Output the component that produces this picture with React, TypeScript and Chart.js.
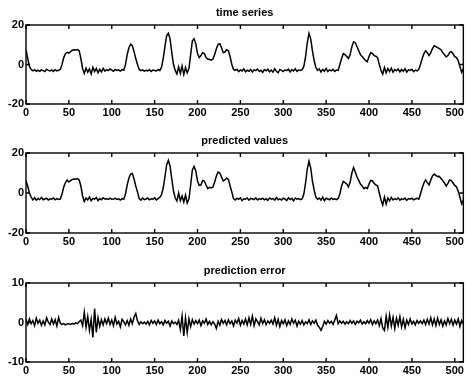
import React, { useEffect, useRef } from "react";
import { Chart, registerables } from "chart.js";

Chart.register(...registerables);

// ---------- data ----------
const sampleStep = 2; // one value every 2 samples, x = 0..510
const xMin = 0;
const xMax = 510;
const xTicks = [0, 50, 100, 150, 200, 250, 300, 350, 400, 450, 500];
const seriesTicks = [-20, 0, 20];
const errorTicks = [-10, 0, 10];

const panelTitles = ["time series", "predicted values", "prediction error"];

const timeSeries = [
  7.5, 3, -1, -2.5, -3.2, -2.6, -3.4, -2.9, -3.5, -2.7,
  -3.1, -3.6, -2.4, -3.0, -3.3, -2.8, -3.5, -2.6, -3.2, -2.9,
  -2.5, 0, 3.5, 5.5, 6.2, 5.8, 6.5, 7.2, 7.5, 7.4,
  7.6, 7, 3, -2, -4.5, -1.8, -3.9, -2.2, -4.8, -1.5,
  -3.6, -2.0, -4.2, -2.4, -3.8, -1.9, -3.3, -2.6, -3.1, -2.3,
  -2.8, -3.4, -2.5, -3.0, -2.7, -3.3, -2.6, -2.9, 0, 5,
  8.5, 10.3, 9.5, 6.5, 3, 0, -2.5, -3.1, -2.7, -3.4,
  -2.9, -3.2, -2.6, -3.5, -2.8, -3.0, -3.3, -2.5, -3.1, -1.5,
  3, 9, 14.5, 15.8, 13, 6, 0, -3, -4.8, -1.2,
  -4.5, -0.8, -5, -1.5, -4.2, -2, 5, 12, 13, 10.5,
  5.5, 3.5, 4.5, 6, 5.5, 3.5, 2.8, 2.5, 2.2, 2.8,
  5, 8, 10.2, 10.5, 8.5, 6, 6.3, 7.5, 7, 4,
  0, -2.5, -3, -2.4, -3.6, -2.8, -3.3, -2.2, -3.7, -2.9,
  -3.4, -2.5, -3.8, -2.7, -3.1, -2.3, -3.5, -2.9, -4.0, -2.6,
  -3.2, -2.4, -3.7, -2.8, -3.9, -2.1, -3.4, -4.2, -2.5, -3.0,
  -3.6, -2.7, -3.1, -2.4, -3.8, -2.6, -3.3, -2.2, -3.5, -2.8,
  -3.0, -2.6, -1, 4, 11, 15.8, 13, 7, 2, -1.5,
  -3, -2.2, -3.8, -2.5, -3.4, -2.0, -3.6, -2.7, -3.2, -2.4,
  -3.5, -2.8, -3.0, 0, 3, 5.5, 5, 4, 3, 5,
  9, 11.5, 11, 9, 7, 5, 4, 3, 2, 1.5,
  4, 6, 5.5, 4.5, 4.2, 3.5, 0, -3, -4.8, -1.5,
  -4.2, -2.0, -3.6, -1.8, -3.9, -2.6, -3.2, -2.3, -3.7, -2.5,
  -3.4, -2.1, -3.8, -2.7, -3.0, -2.4, -3.6, -2.8, -3.2, -2.6,
  0, 3, 5.5, 7, 6, 4.5, 6, 8, 9.5, 9,
  8.5, 8, 7.5, 6, 5, 3.8, 4.5, 6, 6.5, 5.5,
  4, 3.5, 2, -1, -4, -2,
];

const predictedValues = [
  6, 3.5, 0, -2, -3.5, -2.4, -3.6, -2.7, -3.3, -2.2,
  -3.4, -3.0, -2.6, -3.5, -2.9, -3.1, -2.5, -3.4, -2.8, -3.2,
  -3.0, -0.5, 3, 5.2, 6.5, 5.5, 6.2, 6.8, 7, 6.9,
  7.2, 6.5, 3.5, -1.5, -4.2, -2.5, -3.5, -2.0, -3.9, -2.7,
  -3.1, -2.2, -3.8, -2.8, -3.4, -2.4, -3.0, -2.9, -3.2, -2.6,
  -3.1, -3.0, -2.7, -3.2, -2.9, -3.5, -2.8, -3.1, -0.5, 4,
  7.5, 9.5, 9.8, 7, 3.5, 0.5, -2.8, -3.6, -2.5, -3.3,
  -3.0, -2.5, -3.4, -2.9, -3.1, -2.4, -3.5, -2.8, -2.2, -1.0,
  2.5, 8, 14, 16.3, 13.5, 7, 1, -2.5, -4, 0,
  -3.8, -1.5, -4.5, -1.0, -5, -3, 4, 11.5, 13.3, 11,
  6, 3.8, 4, 6.3, 6, 4, 2.2, 2.8, 2.5, 3,
  5.5, 8.5, 10.5, 10, 8, 6, 6.5, 7.5, 6.8, 3.5,
  0.5, -2.8, -3.5, -2.6, -3.2, -2.4, -3.8, -2.9, -3.1, -2.5,
  -3.6, -2.7, -3.0, -3.3, -2.4, -3.5, -2.8, -3.2, -2.6, -3.4,
  -2.9, -3.7, -2.5, -3.1, -2.8, -3.6, -2.3, -3.4, -2.9, -3.5,
  -2.6, -3.0, -3.8, -2.4, -3.3, -2.7, -3.9, -2.5, -3.1, -2.8,
  -3.3, -3.0, -0.5, 5, 12, 16, 12.5, 6, 1.5, -2,
  -3.2, -2.5, -3.6, -2.1, -3.9, -2.6, -3.0, -3.4, -2.5, -3.2,
  -2.9, -3.3, -2.7, -0.5, 3.5, 5.8, 5.2, 4.5, 3, 5.5,
  10, 12.7, 10.5, 8, 6.3, 4.5, 3.5, 2.2, 2.8, 2.2,
  4.5, 6.3, 6, 4.8, 4, 3.5, 0, -3.5, -6, -2,
  -5.5, -2.5, -4, -2.2, -3.5, -2.8, -3.3, -2.4, -3.6, -2.9,
  -3.2, -2.5, -3.7, -2.8, -3.1, -2.6, -3.4, -3.0, -2.7, -3.1,
  -0.5, 2.5, 5, 6.5, 5.2, 4, 6.5, 8.5, 9.5, 8.8,
  8.2, 8.3, 7.2, 6.2, 5, 3.5, 4.8, 6.5, 6.2, 5,
  3.8, 3, 1, -2, -5.5, -3.5,
];

const predictionError = [
  0.8, -0.5, 0.9, -0.3, 0.5, -0.8, 1.1, -0.2, 0.6, -0.7,
  0.4, -0.6, 1.2, 0.1, -0.5, 0.9, -0.4, 0.7, -0.9, 1.3,
  -0.2, -0.5, -0.3, -0.6, -0.4, -0.3, -0.5, -0.2, -0.4, -0.1,
  -0.3, 0.2, 0.6, -0.8, 2.6, -1.2, 1.5, -2.0, 0.8, -3.8,
  3.5, -2.5, 1.2, -1.0, 0.7, -0.6, 0.9, -0.3, 1.1, -0.5,
  0.6, -0.8, 1.3, -0.4, 0.3, -1.1, 0.8, 0.2, -0.6, 0.5,
  -0.7, 0.9, -0.3, 1.4, 2.3, 0.4, -0.5, 0.2, -0.3, 0.1,
  -0.4, 0.3, -0.6, 0.5, -0.2, 0.4, -0.5, 0.6, -0.3, 0.2,
  -0.6, 0.5, -0.2, 0.3, -0.9, 0.4, -0.3, 0.1, -0.5, 0.6,
  -1.8, 1.6, -3.4, 1.2, -2.5, 0.9, -1.0, 0.7, -0.4, 0.5,
  -0.3, 0.6, -0.8, 0.4, -0.2, 0.9, -0.5, 0.3, -0.6, 0.2,
  -0.4, -1.5, 0.3, -0.7, 0.8, -0.2, 0.5, -0.6, 0.7, -0.3,
  0.4, -0.9, 0.6, -0.2, 1.0, -0.7, 0.5, -0.4, 0.9, -0.6,
  1.2, -0.5, 1.6, -0.8, 0.9, 0.2, -0.6, 1.1, -0.3, 0.7,
  -0.5, 0.4, -0.2, 0.6, -0.4, 1.2, -0.7, 0.8, -1.0, 0.5,
  -0.3, 0.7, -0.8, 0.4, -0.5, 0.9, -0.2, 0.6, -0.9, 0.3,
  -0.4, 0.5, -0.6, 0.2, -0.3, 0.7, -0.5, 0.4, -0.2, 0.6,
  -0.7, -1.2, -2.0, -1.0, 0.3, -0.4, 0.5, -0.2, 0.3, -0.5,
  0.6, 1.8, -0.3, 0.4, -0.2, 0.3, -0.4, 0.2, -0.3, 0.5,
  -0.2, 0.4, -0.5, 0.3, -0.1, 0.6, -0.4, 0.2, -0.3, 0.5,
  -0.2, 0.7, -0.5, 0.4, -0.3, 0.6, -0.8, 1.0, -1.4, -2.0,
  1.6, -1.2, 1.9, -0.9, 1.3, -1.5, 1.1, -0.7, 1.5, -1.1,
  0.8, -1.3, 0.6, -0.5, 0.9, -0.4, 0.3, -0.6, 0.5, -0.2,
  0.4, -0.3, 0.6, -0.5, 0.8, -0.4, 1.2, -0.6, 0.9, -0.8,
  1.1, -0.5, 0.7, -0.9, 0.4, -0.6, 1.0, -0.3, 0.8, -0.7,
  0.6, -0.4, 0.9, -1.0, 0.5, -0.3,
];

// ---------- styling ----------
const FONT_FAMILY = "'Liberation Sans', Arial, Helvetica, sans-serif";
const CANVAS_W = 466;

const matlabFrame = {
  id: "matlabFrame",
  afterDatasetsDraw(chart: any) {
    const { ctx, chartArea: a, scales } = chart;
    ctx.save();
    ctx.strokeStyle = "#000";
    ctx.lineWidth = 1.4;
    ctx.strokeRect(a.left, a.top, a.right - a.left, a.bottom - a.top);
    const len = 4;
    ctx.beginPath();
    scales.x.ticks.forEach((t: any) => {
      const px = scales.x.getPixelForValue(t.value);
      ctx.moveTo(px, a.top);
      ctx.lineTo(px, a.top + len);
      ctx.moveTo(px, a.bottom);
      ctx.lineTo(px, a.bottom - len);
    });
    scales.y.ticks.forEach((t: any) => {
      const py = scales.y.getPixelForValue(t.value);
      ctx.moveTo(a.left, py);
      ctx.lineTo(a.left + len, py);
      ctx.moveTo(a.right, py);
      ctx.lineTo(a.right - len, py);
    });
    ctx.stroke();
    ctx.restore();
  },
};

type PanelProps = {
  top: number;
  height: number;
  title: string;
  values: number[];
  yMin: number;
  yMax: number;
  yTicks: number[];
};

function Panel({ top, height, title, values, yMin, yMax, yTicks }: PanelProps) {
  const ref = useRef<HTMLCanvasElement | null>(null);

  useEffect(() => {
    if (!ref.current) return;
    const points = values.map((v, i) => ({ x: i * sampleStep, y: v }));
    const tickFont = { family: FONT_FAMILY, size: 11, weight: "bold" as const };
    const chart = new Chart(ref.current, {
      type: "line",
      data: {
        datasets: [
          {
            data: points,
            borderColor: "#000",
            borderWidth: 1.5,
            pointRadius: 0,
            tension: 0,
            fill: false,
          },
        ],
      },
      options: {
        responsive: false,
        animation: false,
        devicePixelRatio: 1,
        events: [],
        layout: { padding: { left: 0, right: 2, top: 0, bottom: 0 } },
        plugins: {
          legend: { display: false },
          tooltip: { enabled: false },
          title: {
            display: true,
            text: title,
            fullSize: false,
            color: "#000",
            font: { family: FONT_FAMILY, size: 11, weight: "bold", lineHeight: 1 },
            padding: { top: 7.5, bottom: 6.5 },
          },
        },
        scales: {
          x: {
            type: "linear",
            min: xMin,
            max: xMax,
            grid: { display: false, drawTicks: false },
            border: { display: false },
            afterBuildTicks: (s: any) => {
              s.ticks = xTicks.map((v) => ({ value: v }));
            },
            afterFit: (s: any) => {
              s.height = 14;
            },
            ticks: {
              color: "#000",
              font: tickFont,
              padding: 2,
              autoSkip: false,
              maxRotation: 0,
              callback: (v: any) => String(v),
            },
          },
          y: {
            type: "linear",
            min: yMin,
            max: yMax,
            grid: { display: false, drawTicks: false },
            border: { display: false },
            afterBuildTicks: (s: any) => {
              s.ticks = yTicks.map((v) => ({ value: v }));
            },
            afterFit: (s: any) => {
              s.width = 26;
            },
            ticks: {
              color: "#000",
              font: tickFont,
              padding: 2,
              callback: (v: any) => String(v),
            },
          },
        },
      },
      plugins: [matlabFrame],
    });
    return () => chart.destroy();
  }, [title, values, yMin, yMax, yTicks]);

  return (
    <canvas
      ref={ref}
      width={CANVAS_W}
      height={height}
      style={{ position: "absolute", left: 0, top, width: CANVAS_W, height }}
    />
  );
}

export default function App() {
  return (
    <div
      style={{
        position: "fixed",
        left: 0,
        top: 0,
        width: CANVAS_W,
        height: 376,
        background: "#fff",
        overflow: "hidden",
      }}
    >
      <Panel top={0} height={118} title={panelTitles[0]} values={timeSeries} yMin={-20} yMax={20} yTicks={seriesTicks} />
      <Panel top={128} height={119} title={panelTitles[1]} values={predictedValues} yMin={-20} yMax={20} yTicks={seriesTicks} />
      <Panel top={258} height={118} title={panelTitles[2]} values={predictionError} yMin={-10} yMax={10} yTicks={errorTicks} />
    </div>
  );
}
